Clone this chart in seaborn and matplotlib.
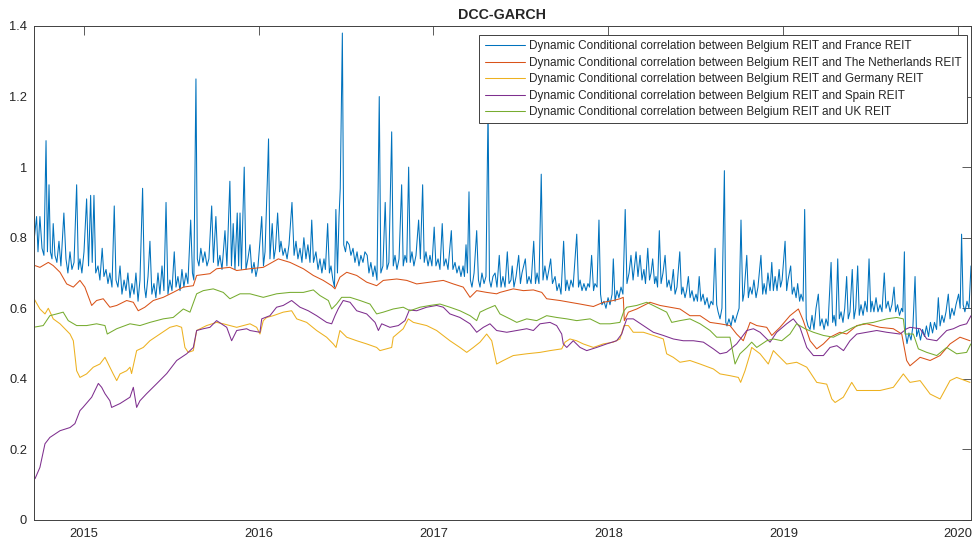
import matplotlib
matplotlib.use("Agg")
import matplotlib.pyplot as plt
import seaborn as sns
import pandas as pd

# ---------------- data (decimal years, correlation) ----------------
labels = [
    "Dynamic Conditional correlation between Belgium REIT and France REIT",
    "Dynamic Conditional correlation between Belgium REIT and The Netherlands REIT",
    "Dynamic Conditional correlation between Belgium REIT and Germany REIT",
    "Dynamic Conditional correlation between Belgium REIT and Spain REIT",
    "Dynamic Conditional correlation between Belgium REIT and UK REIT",
]
colors = ["#0072BD", "#D95319", "#EDB120", "#7E2F8E", "#77AC30"]

france_pts = [
    (2014.716, 0.79), (2014.731, 0.86), (2014.739, 0.76), (2014.750, 0.86), (2014.762, 0.77),
    (2014.773, 0.75), (2014.785, 1.075), (2014.793, 0.76), (2014.802, 0.95), (2014.810, 0.76),
    (2014.819, 0.74), (2014.826, 0.84), (2014.836, 0.75), (2014.847, 0.73), (2014.859, 0.79),
    (2014.870, 0.72), (2014.887, 0.87), (2014.899, 0.74), (2014.910, 0.70), (2014.922, 0.76),
    (2014.933, 0.71), (2014.945, 0.73), (2014.960, 0.95), (2014.970, 0.71), (2014.979, 0.74),
    (2014.990, 0.70), (2015.002, 0.76), (2015.017, 0.91), (2015.028, 0.72), (2015.040, 0.92),
    (2015.049, 0.73), (2015.059, 0.92), (2015.069, 0.70), (2015.082, 0.72), (2015.093, 0.68),
    (2015.106, 0.77), (2015.116, 0.69), (2015.128, 0.71), (2015.139, 0.67), (2015.150, 0.70),
    (2015.162, 0.66), (2015.175, 0.89), (2015.185, 0.68), (2015.196, 0.66), (2015.208, 0.72),
    (2015.219, 0.64), (2015.231, 0.68), (2015.242, 0.65), (2015.253, 0.70), (2015.265, 0.63),
    (2015.276, 0.67), (2015.288, 0.64), (2015.299, 0.70), (2015.311, 0.62), (2015.322, 0.68),
    (2015.337, 0.94), (2015.348, 0.66), (2015.356, 0.63), (2015.368, 0.69), (2015.379, 0.79),
    (2015.390, 0.64), (2015.402, 0.67), (2015.413, 0.63), (2015.425, 0.70), (2015.436, 0.64),
    (2015.448, 0.72), (2015.459, 0.65), (2015.471, 0.90), (2015.482, 0.64), (2015.493, 0.68),
    (2015.505, 0.65), (2015.518, 0.76), (2015.528, 0.66), (2015.539, 0.69), (2015.551, 0.65),
    (2015.562, 0.71), (2015.573, 0.66), (2015.585, 0.70), (2015.596, 0.67), (2015.612, 0.85),
    (2015.622, 0.70), (2015.630, 0.68), (2015.642, 1.25), (2015.650, 0.74), (2015.659, 0.72),
    (2015.670, 0.77), (2015.682, 0.73), (2015.693, 0.76), (2015.705, 0.72), (2015.716, 0.74),
    (2015.732, 0.89), (2015.742, 0.73), (2015.756, 0.86), (2015.768, 0.72), (2015.779, 0.75),
    (2015.791, 0.71), (2015.808, 0.82), (2015.819, 0.72), (2015.836, 0.96), (2015.845, 0.72),
    (2015.855, 0.84), (2015.865, 0.71), (2015.878, 0.87), (2015.886, 0.72), (2015.894, 0.87),
    (2015.902, 0.71), (2015.918, 1.00), (2015.928, 0.71), (2015.939, 0.74), (2015.951, 0.78),
    (2015.962, 0.70), (2015.974, 0.73), (2015.985, 0.69), (2015.997, 0.72), (2016.008, 0.79),
    (2016.018, 0.86), (2016.028, 0.72), (2016.037, 0.76), (2016.050, 0.96), (2016.057, 1.08),
    (2016.065, 0.74), (2016.078, 0.84), (2016.088, 0.74), (2016.097, 0.77), (2016.109, 0.87),
    (2016.120, 0.76), (2016.128, 0.79), (2016.140, 0.75), (2016.151, 0.77), (2016.163, 0.74),
    (2016.174, 0.78), (2016.191, 0.90), (2016.203, 0.75), (2016.214, 0.79), (2016.225, 0.74),
    (2016.237, 0.77), (2016.248, 0.73), (2016.259, 0.80), (2016.271, 0.74), (2016.282, 0.78),
    (2016.294, 0.73), (2016.304, 0.85), (2016.314, 0.73), (2016.328, 0.76), (2016.340, 0.71),
    (2016.351, 0.74), (2016.362, 0.70), (2016.374, 0.74), (2016.382, 0.71), (2016.395, 0.84),
    (2016.405, 0.70), (2016.414, 0.72), (2016.425, 0.68), (2016.434, 0.66), (2016.442, 0.88),
    (2016.451, 0.70), (2016.460, 0.86), (2016.467, 0.94), (2016.479, 1.38), (2016.487, 0.78),
    (2016.497, 0.76), (2016.505, 0.79), (2016.518, 0.78), (2016.528, 0.75), (2016.540, 0.77),
    (2016.551, 0.73), (2016.563, 0.76), (2016.574, 0.72), (2016.585, 0.75), (2016.597, 0.73),
    (2016.608, 0.76), (2016.621, 0.75), (2016.631, 0.70), (2016.642, 0.73), (2016.654, 0.69),
    (2016.665, 0.72), (2016.677, 0.68), (2016.690, 1.20), (2016.699, 0.70), (2016.711, 0.72),
    (2016.724, 0.90), (2016.734, 0.71), (2016.745, 0.73), (2016.761, 1.10), (2016.770, 0.72),
    (2016.780, 0.75), (2016.791, 0.71), (2016.803, 0.74), (2016.818, 0.95), (2016.827, 0.72),
    (2016.837, 0.75), (2016.847, 0.73), (2016.858, 1.00), (2016.867, 0.73), (2016.877, 0.76),
    (2016.888, 0.72), (2016.900, 0.75), (2016.915, 0.85), (2016.925, 0.74), (2016.938, 0.95),
    (2016.947, 0.73), (2016.957, 0.76), (2016.969, 0.72), (2016.980, 0.75), (2016.991, 0.72),
    (2017.004, 0.83), (2017.014, 0.72), (2017.026, 0.74), (2017.037, 0.71), (2017.050, 0.84),
    (2017.060, 0.72), (2017.071, 0.74), (2017.083, 0.71), (2017.102, 0.82), (2017.111, 0.71),
    (2017.123, 0.73), (2017.134, 0.70), (2017.146, 0.72), (2017.157, 0.69), (2017.169, 0.72),
    (2017.177, 0.69), (2017.186, 0.78), (2017.194, 0.70), (2017.203, 0.93), (2017.211, 0.68),
    (2017.220, 0.66), (2017.232, 0.70), (2017.247, 0.82), (2017.257, 0.68), (2017.266, 0.66),
    (2017.277, 0.70), (2017.289, 0.67), (2017.300, 0.69), (2017.312, 1.17), (2017.320, 0.68),
    (2017.329, 0.66), (2017.340, 0.69), (2017.352, 0.70), (2017.363, 0.66), (2017.376, 0.75),
    (2017.386, 0.66), (2017.397, 0.69), (2017.409, 0.66), (2017.422, 0.76), (2017.432, 0.67),
    (2017.443, 0.68), (2017.450, 0.72), (2017.460, 0.66), (2017.472, 0.69), (2017.487, 0.75),
    (2017.497, 0.67), (2017.506, 0.70), (2017.525, 0.74), (2017.535, 0.67), (2017.546, 0.69),
    (2017.558, 0.67), (2017.573, 0.79), (2017.583, 0.67), (2017.592, 0.70), (2017.603, 0.67),
    (2017.616, 0.98), (2017.626, 0.68), (2017.637, 0.72), (2017.649, 0.68), (2017.660, 0.71),
    (2017.670, 0.74), (2017.680, 0.67), (2017.695, 0.69), (2017.706, 0.65), (2017.718, 0.67),
    (2017.729, 0.64), (2017.744, 0.79), (2017.755, 0.65), (2017.763, 0.68), (2017.775, 0.65),
    (2017.786, 0.68), (2017.798, 0.66), (2017.819, 0.81), (2017.829, 0.66), (2017.838, 0.68),
    (2017.849, 0.65), (2017.860, 0.67), (2017.872, 0.65), (2017.883, 0.67), (2017.892, 0.66),
    (2017.904, 0.75), (2017.915, 0.65), (2017.923, 0.67), (2017.935, 0.66), (2017.946, 0.85),
    (2017.955, 0.64), (2017.963, 0.61), (2017.975, 0.62), (2017.986, 0.60), (2017.998, 0.63),
    (2018.009, 0.61), (2018.021, 0.64), (2018.028, 0.74), (2018.038, 0.62), (2018.049, 0.65),
    (2018.060, 0.63), (2018.072, 0.66), (2018.083, 0.64), (2018.096, 0.88), (2018.106, 0.67),
    (2018.118, 0.70), (2018.129, 0.75), (2018.141, 0.68), (2018.158, 0.76), (2018.169, 0.69),
    (2018.181, 0.75), (2018.192, 0.68), (2018.203, 0.71), (2018.212, 0.67), (2018.225, 0.77),
    (2018.235, 0.68), (2018.244, 0.70), (2018.253, 0.74), (2018.264, 0.67), (2018.272, 0.69),
    (2018.281, 0.66), (2018.291, 0.82), (2018.301, 0.67), (2018.312, 0.70), (2018.324, 0.75),
    (2018.335, 0.66), (2018.346, 0.68), (2018.358, 0.65), (2018.371, 0.71), (2018.381, 0.64),
    (2018.392, 0.66), (2018.408, 0.76), (2018.418, 0.64), (2018.426, 0.66), (2018.438, 0.63),
    (2018.447, 0.65), (2018.457, 0.69), (2018.467, 0.63), (2018.478, 0.65), (2018.489, 0.62),
    (2018.501, 0.64), (2018.509, 0.62), (2018.519, 0.69), (2018.529, 0.62), (2018.541, 0.64),
    (2018.552, 0.61), (2018.564, 0.63), (2018.575, 0.60), (2018.587, 0.62), (2018.598, 0.61),
    (2018.610, 0.77), (2018.619, 0.61), (2018.627, 0.59), (2018.638, 0.57), (2018.649, 0.60),
    (2018.663, 0.99), (2018.671, 0.56), (2018.678, 0.55), (2018.689, 0.57), (2018.701, 0.55),
    (2018.712, 0.58), (2018.724, 0.56), (2018.735, 0.58), (2018.747, 0.60), (2018.758, 0.85),
    (2018.768, 0.62), (2018.775, 0.64), (2018.791, 0.75), (2018.800, 0.63), (2018.810, 0.66),
    (2018.821, 0.64), (2018.832, 0.68), (2018.844, 0.63), (2018.855, 0.66), (2018.872, 0.75),
    (2018.882, 0.64), (2018.890, 0.67), (2018.901, 0.64), (2018.912, 0.70), (2018.924, 0.65),
    (2018.934, 0.73), (2018.943, 0.65), (2018.953, 0.69), (2018.964, 0.65), (2018.976, 0.71),
    (2018.984, 0.66), (2018.993, 0.68), (2019.010, 0.79), (2019.019, 0.65), (2019.027, 0.68),
    (2019.042, 0.72), (2019.051, 0.64), (2019.061, 0.66), (2019.073, 0.63), (2019.082, 0.67),
    (2019.093, 0.62), (2019.101, 0.64), (2019.113, 0.62), (2019.122, 0.88), (2019.131, 0.57),
    (2019.141, 0.55), (2019.153, 0.54), (2019.164, 0.58), (2019.175, 0.54), (2019.187, 0.60),
    (2019.200, 0.64), (2019.210, 0.55), (2019.221, 0.57), (2019.233, 0.54), (2019.244, 0.57),
    (2019.255, 0.55), (2019.273, 0.73), (2019.282, 0.56), (2019.290, 0.58), (2019.300, 0.55),
    (2019.311, 0.74), (2019.320, 0.57), (2019.330, 0.59), (2019.341, 0.56), (2019.351, 0.60),
    (2019.362, 0.69), (2019.371, 0.57), (2019.381, 0.59), (2019.394, 0.71), (2019.404, 0.57),
    (2019.414, 0.60), (2019.425, 0.72), (2019.434, 0.58), (2019.444, 0.61), (2019.456, 0.58),
    (2019.467, 0.62), (2019.479, 0.59), (2019.490, 0.74), (2019.500, 0.59), (2019.507, 0.62),
    (2019.518, 0.59), (2019.530, 0.63), (2019.541, 0.59), (2019.553, 0.61), (2019.564, 0.59),
    (2019.577, 0.70), (2019.587, 0.60), (2019.599, 0.62), (2019.610, 0.59), (2019.621, 0.61),
    (2019.633, 0.66), (2019.642, 0.59), (2019.653, 0.61), (2019.664, 0.58), (2019.676, 0.60),
    (2019.683, 0.59), (2019.692, 0.76), (2019.698, 0.53), (2019.707, 0.50), (2019.718, 0.53),
    (2019.730, 0.51), (2019.741, 0.55), (2019.753, 0.69), (2019.762, 0.52), (2019.773, 0.54),
    (2019.784, 0.51), (2019.796, 0.54), (2019.807, 0.52), (2019.818, 0.55), (2019.830, 0.52),
    (2019.841, 0.56), (2019.853, 0.53), (2019.864, 0.56), (2019.876, 0.54), (2019.886, 0.63),
    (2019.896, 0.55), (2019.907, 0.58), (2019.918, 0.56), (2019.930, 0.59), (2019.943, 0.64),
    (2019.953, 0.57), (2019.964, 0.60), (2019.976, 0.58), (2019.987, 0.61), (2020.002, 0.64),
    (2020.011, 0.60), (2020.019, 0.81), (2020.028, 0.61), (2020.038, 0.59), (2020.050, 0.62),
    (2020.061, 0.60), (2020.073, 0.72),
]
t_france = [p[0] for p in france_pts]
france = [p[1] for p in france_pts]

t_nl = [2014.722, 2014.750, 2014.798, 2014.826, 2014.865, 2014.903, 2014.941, 2014.979, 2015.007, 2015.046,
        2015.074, 2015.112, 2015.150, 2015.189, 2015.246, 2015.284, 2015.312, 2015.350, 2015.398, 2015.455,
        2015.512, 2015.570, 2015.627, 2015.646, 2015.722, 2015.760, 2015.836, 2015.875, 2015.951, 2016.027,
        2016.113, 2016.180, 2016.256, 2016.313, 2016.370, 2016.418, 2016.437, 2016.465, 2016.504, 2016.561,
        2016.618, 2016.675, 2016.713, 2016.790, 2016.847, 2016.904, 2016.980, 2017.056, 2017.113, 2017.170,
        2017.209, 2017.247, 2017.304, 2017.361, 2017.380, 2017.456, 2017.514, 2017.571, 2017.619, 2017.647,
        2017.723, 2017.780, 2017.838, 2017.914, 2017.971, 2018.028, 2018.066, 2018.085, 2018.091, 2018.114,
        2018.162, 2018.238, 2018.295, 2018.352, 2018.409, 2018.466, 2018.524, 2018.581, 2018.638, 2018.695,
        2018.733, 2018.771, 2018.810, 2018.848, 2018.905, 2018.934, 2018.981, 2019.038, 2019.086, 2019.114,
        2019.153, 2019.191, 2019.229, 2019.267, 2019.324, 2019.362, 2019.420, 2019.477, 2019.553, 2019.629,
        2019.677, 2019.705, 2019.724, 2019.782, 2019.839, 2019.896, 2019.953, 2020.010, 2020.067]
netherlands = [0.721, 0.716, 0.730, 0.721, 0.702, 0.669, 0.660, 0.679, 0.660, 0.608,
               0.622, 0.627, 0.603, 0.608, 0.622, 0.617, 0.593, 0.603, 0.622, 0.631,
               0.645, 0.660, 0.664, 0.693, 0.698, 0.712, 0.716, 0.707, 0.712, 0.716,
               0.740, 0.730, 0.712, 0.693, 0.679, 0.664, 0.655, 0.688, 0.702, 0.693,
               0.674, 0.664, 0.679, 0.683, 0.679, 0.669, 0.674, 0.679, 0.669, 0.660,
               0.631, 0.650, 0.645, 0.641, 0.645, 0.655, 0.650, 0.652, 0.645, 0.627,
               0.622, 0.617, 0.612, 0.605, 0.617, 0.622, 0.627, 0.631, 0.565, 0.589,
               0.598, 0.617, 0.608, 0.603, 0.598, 0.579, 0.579, 0.560, 0.556, 0.551,
               0.527, 0.508, 0.560, 0.551, 0.546, 0.523, 0.546, 0.579, 0.598, 0.565,
               0.508, 0.485, 0.499, 0.518, 0.532, 0.527, 0.551, 0.556, 0.546, 0.542,
               0.527, 0.452, 0.437, 0.461, 0.452, 0.466, 0.499, 0.518, 0.508]

t_de = [2014.712, 2014.750, 2014.779, 2014.798, 2014.826, 2014.865, 2014.922, 2014.941, 2014.960, 2014.979,
        2015.017, 2015.055, 2015.093, 2015.122, 2015.150, 2015.169, 2015.189, 2015.208, 2015.246, 2015.265,
        2015.274, 2015.303, 2015.341, 2015.379, 2015.436, 2015.493, 2015.532, 2015.560, 2015.579, 2015.598,
        2015.627, 2015.646, 2015.703, 2015.760, 2015.798, 2015.836, 2015.875, 2015.913, 2015.951, 2015.989,
        2016.008, 2016.027, 2016.046, 2016.084, 2016.141, 2016.189, 2016.218, 2016.275, 2016.332, 2016.389,
        2016.427, 2016.443, 2016.465, 2016.504, 2016.561, 2016.618, 2016.675, 2016.694, 2016.732, 2016.761,
        2016.770, 2016.827, 2016.856, 2016.885, 2016.961, 2017.018, 2017.094, 2017.151, 2017.190, 2017.228,
        2017.266, 2017.304, 2017.333, 2017.361, 2017.399, 2017.456, 2017.533, 2017.609, 2017.666, 2017.733,
        2017.752, 2017.780, 2017.818, 2017.856, 2017.914, 2017.971, 2018.028, 2018.066, 2018.089, 2018.114,
        2018.142, 2018.200, 2018.257, 2018.314, 2018.333, 2018.371, 2018.409, 2018.466, 2018.524, 2018.600,
        2018.638, 2018.695, 2018.743, 2018.756, 2018.781, 2018.810, 2018.819, 2018.867, 2018.914, 2018.943,
        2018.981, 2019.019, 2019.076, 2019.134, 2019.191, 2019.248, 2019.277, 2019.296, 2019.343, 2019.391,
        2019.420, 2019.477, 2019.553, 2019.629, 2019.686, 2019.724, 2019.782, 2019.839, 2019.896, 2019.953,
        2019.991, 2020.039, 2020.067]
germany = [0.631, 0.598, 0.584, 0.600, 0.570, 0.556, 0.527, 0.508, 0.423, 0.404,
           0.414, 0.433, 0.442, 0.461, 0.433, 0.414, 0.395, 0.414, 0.423, 0.433,
           0.415, 0.480, 0.489, 0.508, 0.527, 0.546, 0.551, 0.546, 0.489, 0.475,
           0.480, 0.537, 0.551, 0.560, 0.556, 0.551, 0.546, 0.551, 0.556, 0.546,
           0.527, 0.565, 0.574, 0.579, 0.589, 0.593, 0.570, 0.560, 0.537, 0.518,
           0.499, 0.489, 0.537, 0.518, 0.508, 0.499, 0.489, 0.480, 0.485, 0.489,
           0.518, 0.542, 0.570, 0.560, 0.551, 0.537, 0.508, 0.489, 0.475, 0.489,
           0.504, 0.527, 0.508, 0.442, 0.452, 0.466, 0.471, 0.475, 0.480, 0.485,
           0.504, 0.513, 0.508, 0.499, 0.489, 0.499, 0.504, 0.513, 0.551, 0.551,
           0.532, 0.532, 0.523, 0.513, 0.471, 0.461, 0.447, 0.452, 0.442, 0.428,
           0.414, 0.409, 0.404, 0.390, 0.423, 0.471, 0.489, 0.471, 0.442, 0.480,
           0.461, 0.442, 0.447, 0.433, 0.390, 0.385, 0.343, 0.333, 0.348, 0.390,
           0.367, 0.367, 0.367, 0.376, 0.414, 0.390, 0.395, 0.357, 0.343, 0.395,
           0.404, 0.395, 0.390]

t_es = [2014.722, 2014.750, 2014.779, 2014.807, 2014.865, 2014.922, 2014.950, 2014.979, 2014.996, 2015.046,
        2015.084, 2015.103, 2015.122, 2015.150, 2015.160, 2015.208, 2015.265, 2015.284, 2015.303, 2015.322,
        2015.360, 2015.417, 2015.475, 2015.532, 2015.589, 2015.627, 2015.646, 2015.684, 2015.722, 2015.760,
        2015.818, 2015.846, 2015.875, 2015.932, 2015.951, 2016.008, 2016.018, 2016.065, 2016.103, 2016.141,
        2016.189, 2016.237, 2016.284, 2016.332, 2016.389, 2016.418, 2016.437, 2016.456, 2016.484, 2016.523,
        2016.561, 2016.618, 2016.666, 2016.685, 2016.704, 2016.751, 2016.799, 2016.837, 2016.862, 2016.904,
        2016.961, 2017.018, 2017.056, 2017.094, 2017.151, 2017.209, 2017.247, 2017.285, 2017.323, 2017.361,
        2017.419, 2017.476, 2017.533, 2017.571, 2017.609, 2017.666, 2017.704, 2017.733, 2017.742, 2017.762,
        2017.799, 2017.838, 2017.876, 2017.933, 2017.990, 2018.047, 2018.076, 2018.095, 2018.105, 2018.142,
        2018.200, 2018.257, 2018.314, 2018.371, 2018.428, 2018.486, 2018.543, 2018.600, 2018.638, 2018.676,
        2018.733, 2018.791, 2018.829, 2018.867, 2018.924, 2018.962, 2019.019, 2019.057, 2019.095, 2019.134,
        2019.172, 2019.229, 2019.267, 2019.306, 2019.344, 2019.381, 2019.420, 2019.477, 2019.534, 2019.591,
        2019.667, 2019.705, 2019.724, 2019.782, 2019.820, 2019.877, 2019.934, 2019.972, 2020.010, 2020.048,
        2020.073]
spain = [0.117, 0.149, 0.216, 0.234, 0.253, 0.262, 0.273, 0.310, 0.319, 0.348,
         0.387, 0.376, 0.358, 0.338, 0.319, 0.330, 0.348, 0.376, 0.319, 0.338,
         0.358, 0.386, 0.415, 0.452, 0.471, 0.489, 0.537, 0.542, 0.546, 0.565,
         0.546, 0.508, 0.537, 0.542, 0.537, 0.532, 0.570, 0.579, 0.603, 0.608,
         0.622, 0.603, 0.593, 0.579, 0.560, 0.556, 0.579, 0.599, 0.622, 0.617,
         0.593, 0.584, 0.560, 0.537, 0.556, 0.546, 0.551, 0.565, 0.595, 0.593,
         0.603, 0.608, 0.603, 0.584, 0.574, 0.556, 0.532, 0.546, 0.556, 0.537,
         0.532, 0.537, 0.542, 0.537, 0.556, 0.560, 0.551, 0.527, 0.499, 0.489,
         0.508, 0.489, 0.480, 0.489, 0.499, 0.508, 0.527, 0.556, 0.570, 0.570,
         0.551, 0.532, 0.523, 0.513, 0.508, 0.508, 0.504, 0.485, 0.471, 0.475,
         0.499, 0.537, 0.542, 0.532, 0.504, 0.532, 0.556, 0.570, 0.546, 0.489,
         0.466, 0.466, 0.489, 0.494, 0.480, 0.508, 0.527, 0.532, 0.537, 0.532,
         0.527, 0.542, 0.546, 0.542, 0.513, 0.508, 0.537, 0.542, 0.551, 0.556,
         0.579]

t_uk = [2014.712, 2014.769, 2014.807, 2014.846, 2014.883, 2014.912, 2014.960, 2015.017, 2015.074, 2015.122,
        2015.135, 2015.189, 2015.265, 2015.322, 2015.379, 2015.455, 2015.512, 2015.570, 2015.608, 2015.646,
        2015.684, 2015.741, 2015.798, 2015.836, 2015.894, 2015.951, 2016.027, 2016.103, 2016.180, 2016.256,
        2016.313, 2016.351, 2016.399, 2016.418, 2016.446, 2016.475, 2016.523, 2016.580, 2016.637, 2016.675,
        2016.713, 2016.770, 2016.827, 2016.866, 2016.923, 2016.980, 2017.037, 2017.094, 2017.151, 2017.209,
        2017.247, 2017.266, 2017.304, 2017.352, 2017.380, 2017.437, 2017.476, 2017.533, 2017.590, 2017.647,
        2017.704, 2017.762, 2017.819, 2017.895, 2017.952, 2018.009, 2018.066, 2018.089, 2018.105, 2018.162,
        2018.219, 2018.276, 2018.333, 2018.362, 2018.409, 2018.466, 2018.524, 2018.581, 2018.619, 2018.676,
        2018.695, 2018.724, 2018.752, 2018.791, 2018.819, 2018.848, 2018.905, 2018.943, 2018.991, 2019.038,
        2019.076, 2019.124, 2019.172, 2019.229, 2019.286, 2019.343, 2019.400, 2019.457, 2019.515, 2019.591,
        2019.648, 2019.686, 2019.696, 2019.743, 2019.772, 2019.820, 2019.877, 2019.934, 2019.991, 2020.048,
        2020.072]
uk = [0.546, 0.551, 0.579, 0.584, 0.589, 0.565, 0.551, 0.551, 0.556, 0.551,
      0.527, 0.542, 0.556, 0.551, 0.560, 0.570, 0.574, 0.598, 0.589, 0.641,
      0.650, 0.655, 0.645, 0.627, 0.641, 0.641, 0.631, 0.641, 0.645, 0.645,
      0.652, 0.636, 0.622, 0.598, 0.612, 0.631, 0.631, 0.622, 0.612, 0.584,
      0.589, 0.598, 0.603, 0.593, 0.603, 0.608, 0.612, 0.603, 0.593, 0.579,
      0.565, 0.589, 0.598, 0.608, 0.584, 0.570, 0.560, 0.570, 0.565, 0.579,
      0.574, 0.570, 0.565, 0.570, 0.556, 0.556, 0.560, 0.593, 0.603, 0.608,
      0.617, 0.603, 0.589, 0.560, 0.565, 0.570, 0.556, 0.537, 0.518, 0.518,
      0.518, 0.442, 0.471, 0.489, 0.504, 0.489, 0.508, 0.513, 0.508, 0.527,
      0.556, 0.542, 0.532, 0.523, 0.518, 0.532, 0.546, 0.556, 0.560, 0.570,
      0.574, 0.570, 0.527, 0.527, 0.485, 0.475, 0.466, 0.489, 0.471, 0.475,
      0.499]

year_ticks = [2015, 2016, 2017, 2018, 2019, 2020]
y_ticks = [0, 0.2, 0.4, 0.6, 0.8, 1.0, 1.2, 1.4]
y_ticklabels = ["0", "0.2", "0.4", "0.6", "0.8", "1", "1.2", "1.4"]

# ---------------- plot ----------------
sns.set_style("white")
plt.rcParams["font.family"] = ["Liberation Sans", "DejaVu Sans"]

fig = plt.figure(figsize=(9.76, 5.45), dpi=100)
ax = fig.add_axes([0.0348, 0.0459, 0.9601, 0.9064])

series = [(t_france, france), (t_nl, netherlands), (t_de, germany), (t_es, spain), (t_uk, uk)]
for (tx, vy), lab, col in zip(series, labels, colors):
    sns.lineplot(x=tx, y=vy, ax=ax, color=col, linewidth=0.75, label=lab,
                 estimator=None, sort=False)

ax.set_xlim(2014.716, 2020.073)
ax.set_ylim(0, 1.4)
ax.set_xticks(year_ticks)
ax.set_xticklabels([str(y) for y in year_ticks])
ax.set_yticks(y_ticks)
ax.set_yticklabels(y_ticklabels)
ax.set_xlabel("")
ax.set_ylabel("")
ax.tick_params(direction="in", length=6.5, width=0.6, colors="#404040",
               labelsize=9.3, top=True, right=True, labelcolor="#262626")
ax.tick_params(axis="x", pad=6)
ax.tick_params(axis="y", pad=5)
for s in ax.spines.values():
    s.set_visible(True)
    s.set_color("#404040")
    s.set_linewidth(0.7)

ax.set_title("DCC-GARCH", fontsize=10.3, fontweight="bold", pad=5)

leg = ax.legend(loc="upper right", bbox_to_anchor=(0.9955, 0.982), fontsize=8.5,
                frameon=True, fancybox=False, framealpha=1, edgecolor="#404040",
                handlelength=3.4, handletextpad=0.35, labelspacing=0.38,
                borderpad=0.45, borderaxespad=0.0)
leg.get_frame().set_linewidth(0.7)
for line in leg.get_lines():
    line.set_linewidth(0.75)

fig.savefig("out.png", dpi=100)
